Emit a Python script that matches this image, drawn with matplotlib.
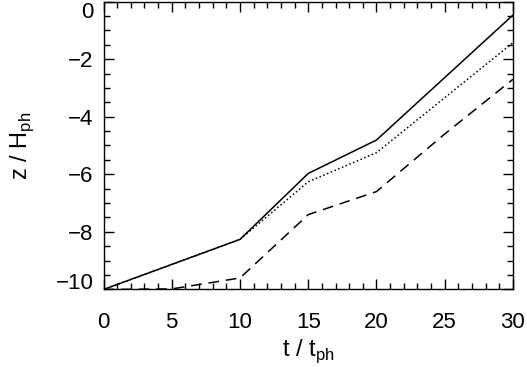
import numpy as np
import matplotlib
matplotlib.use('Agg')
import matplotlib.pyplot as plt
from matplotlib.ticker import MultipleLocator

# data
t = [0, 5, 10, 15, 20, 25, 30]
z_solid = [-10.0, -9.13, -8.26, -5.97, -4.81, -2.64, -0.47]
z_dot = [-10.0, -9.13, -8.26, -6.26, -5.25, -3.34, -1.43]
z_dash = [-10.0, -9.98, -9.6, -7.4, -6.6, -4.6, -2.7]

plt.rcParams['font.family'] = ['Liberation Sans', 'DejaVu Sans']
plt.rcParams['mathtext.fontset'] = 'custom'
plt.rcParams['mathtext.rm'] = 'Liberation Sans'

fig = plt.figure(figsize=(5.27, 3.67), dpi=100)
ax = fig.add_axes([0.1964, 0.2112, 0.777, 0.7847])

ax.plot(t, z_solid, 'k-', lw=1.1)
ax.plot(t, z_dot, 'k:', lw=1.1)
ax.plot(t, z_dash, 'k', lw=1.1, dashes=(7, 4.5))

ax.set_xlim(0, 30)
ax.set_ylim(-10, 0)
ax.xaxis.set_major_locator(MultipleLocator(5))
ax.xaxis.set_minor_locator(MultipleLocator(1))
ax.yaxis.set_major_locator(MultipleLocator(2))
ax.yaxis.set_minor_locator(MultipleLocator(0.5))
ax.tick_params(which='both', direction='in', top=True, right=True, width=1)
ax.tick_params(which='major', length=7)
ax.tick_params(which='minor', length=4)
ax.tick_params(axis='x', pad=16, labelsize=16)
ax.tick_params(axis='y', pad=7, labelsize=16)
for s in ax.spines.values():
    s.set_linewidth(1)

ax.set_xlabel('t / t$_{\\mathrm{ph}}$', fontsize=17, labelpad=3)
ax.set_ylabel('z / H$_{\\mathrm{ph}}$', fontsize=17, labelpad=14)

# keep the end labels inside the figure, as in the original
yticks = [tk for tk in ax.yaxis.get_major_ticks()]
locs = ax.get_yticks()
for tk, loc in zip(yticks, locs):
    if abs(loc - 0) < 1e-9:
        tk.label1.set_va('top')
    elif abs(loc + 10) < 1e-9:
        tk.label1.set_va('baseline')

fig.savefig('out.png', dpi=100)
